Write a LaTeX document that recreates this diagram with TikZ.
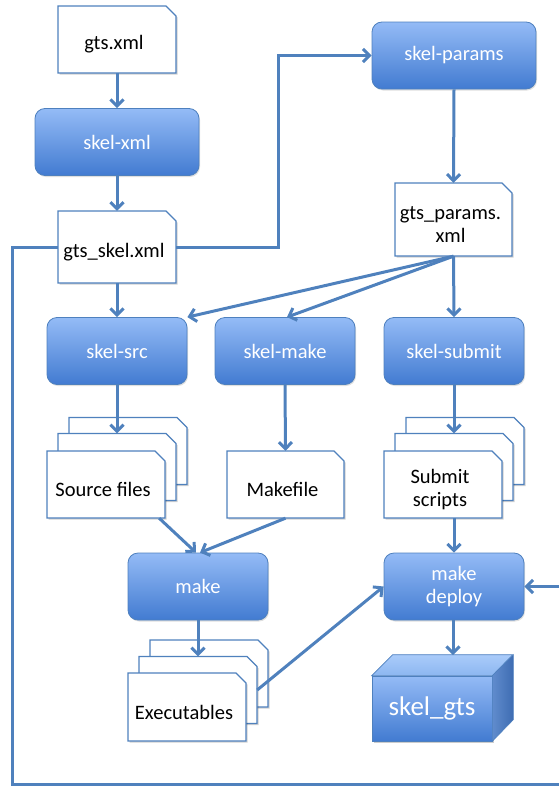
\documentclass[tikz,border=0pt]{standalone}
\usepackage{fontspec}
\setmainfont{Carlito}
\usetikzlibrary{arrows.meta,shadows,calc}
\definecolor{arrowblue}{RGB}{79,129,189}
\definecolor{boxtop}{RGB}{148,187,246}
\definecolor{boxbot}{RGB}{66,123,209}
\definecolor{boxedge}{RGB}{78,128,190}
\definecolor{cubetoptop}{RGB}{170,203,250}
\definecolor{cubetopbot}{RGB}{140,182,240}
\definecolor{cubesidetop}{RGB}{96,140,205}
\definecolor{cubesidebot}{RGB}{62,108,178}
\newcommand\docpg[6]{%
  \fill[docshadow] ({#2-#4/2+1.5},{#3+#5/2+1.5}) -- ({#2-#4/2+1.5},{#3-#5/2+1.5}) -- ({#2+#4/2-10+1.5},{#3-#5/2+1.5}) -- ({#2+#4/2+1.5},{#3-#5/2+10+1.5}) -- ({#2+#4/2+1.5},{#3+#5/2+1.5}) -- cycle;
  \draw[docline] ({#2-#4/2},{#3+#5/2}) -- ({#2-#4/2},{#3-#5/2}) -- ({#2+#4/2-10},{#3-#5/2}) -- ({#2+#4/2},{#3-#5/2+10}) -- ({#2+#4/2},{#3+#5/2}) -- cycle;
  \node[docarea, minimum width=#4, minimum height=#5] (#1) at (#2,#3) {};
  \node[doctext] (#1t) at ({#2-3},{#3+5}) {#6};
}
\begin{document}
\begin{tikzpicture}[x=1pt,y=-1pt,
  docline/.style={draw=arrowblue, line width=1.3pt, fill=white, line join=miter},
  docshadow/.style={fill=black, opacity=0.18},
  docarea/.style={inner sep=0pt, draw=none},
  doctext/.style={inner sep=0pt, align=center, text=black, font=\fontsize{20.5}{23}\selectfont},
  procbox/.style={rounded corners=10pt, top color=boxtop, bottom color=boxbot, draw=boxedge, line width=0.8pt,
     text=white, align=center, minimum width=140pt, minimum height=67pt, inner sep=0pt,
     font=\fontsize{20.5}{23}\selectfont,
     drop shadow={shadow xshift=1pt, shadow yshift=-1.5pt, opacity=0.25}},
  arr/.style={draw=arrowblue, line width=3pt, -{Straight Barb[length=6.5pt,width=13pt]}},
  ]
\useasboundingbox (0,0) rectangle (559,787);

% documents
\docpg{gts}{117}{39.5}{118}{67}{gts.xml}
\docpg{gtsskel}{117}{247}{118}{72}{gts\_skel.xml}
\docpg{gtsparams}{453.5}{219.5}{117}{73}{gts\_params.\\xml}

% stacks
\docpg{srcB}{128}{451}{118}{67}{}
\docpg{srcM}{117}{467}{118}{67}{}
\docpg{srcF}{106}{484.5}{118}{67}{Source files}

\docpg{makefile}{285.5}{484.5}{117}{67}{Makefile}

\docpg{subB}{465}{451}{118}{67}{}
\docpg{subM}{454}{467}{118}{67}{}
\docpg{subF}{443}{484.5}{118}{67}{Submit\\scripts}

\docpg{execB}{209}{673.5}{118}{67}{}
\docpg{execM}{198}{690}{118}{67}{}
\docpg{execF}{187}{707}{118}{68}{Executables}

% process boxes
\node[procbox, minimum width=164pt] (skelxml) at (117,142) {skel-xml};
\node[procbox, minimum width=164pt] (params) at (454,55.5) {skel-params};
\node[procbox] (skelsrc) at (117,351) {skel-src};
\node[procbox] (skelmake) at (285,351) {skel-make};
\node[procbox] (skelsubmit) at (454,351) {skel-submit};
\node[procbox] (make) at (198,586.5) {make};
\node[procbox] (deploy) at (454,586.5) {make\\deploy};

% cube
\fill[black, opacity=0.2] (374,678) rectangle (494,743);
\node[top color=boxtop, bottom color=boxbot, draw=boxedge, line width=0.6pt, minimum width=120pt, minimum height=65pt,
  inner sep=0pt, text=white, font=\fontsize{27}{30}\selectfont] (skelgts) at (432,708.5) {skel\_gts};
\draw[boxedge, line width=0.6pt, top color=cubetoptop, bottom color=cubetopbot] (skelgts.north west) -- ++(21,-21) -- ++(120,0) -- (skelgts.north east) -- cycle;
\draw[boxedge, line width=0.6pt, left color=cubesidetop, right color=cubesidebot] (skelgts.north east) -- ++(21,-21) -- ++(0,65) -- (skelgts.south east) -- cycle;

% connectors
\coordinate (bend) at (278,247);
\coordinate (loopA) at (12,784);
\coordinate (loopB) at (562,784);
\coordinate (cubetop) at (453,655);

\draw[arr] (gts.south) -- (skelxml.north);
\draw[arr] (skelxml.south) -- (gtsskel.north);
\draw[arr] (gtsskel.east) -- (bend) |- (params.west);
\draw[arr] (params.south) -- (gtsparams.north);
\draw[arr] (gtsparams.south) -- (skelsrc.north east);
\draw[arr] (gtsparams.south) -- ([xshift=2pt]skelmake.north);
\draw[arr] (gtsparams.south) -- (skelsubmit.north);
\draw[arr] (gtsskel.south) -- (skelsrc.north);
\draw[arr] (skelsrc.south) -- (srcM.north);
\draw[arr] (skelmake.south) -- (makefile.north);
\draw[arr] (skelsubmit.south) -- (subM.north);
\draw[arr] ([xshift=-6pt]srcF.south east) -- ([xshift=-2pt]make.north);
\draw[arr] (makefile.south) -- ([xshift=2pt]make.north);
\draw[arr] (make.south) -- (execM.north);
\draw[arr] (execM.east) -- (deploy.west);
\draw[arr] (subF.south -| deploy.north) -- (deploy.north);
\draw[arr] (deploy.south -| cubetop) -- (cubetop);
\draw[arr] (gtsskel.west) -| (loopA) -- (loopB) |- (deploy.east);
\end{tikzpicture}
\end{document}
